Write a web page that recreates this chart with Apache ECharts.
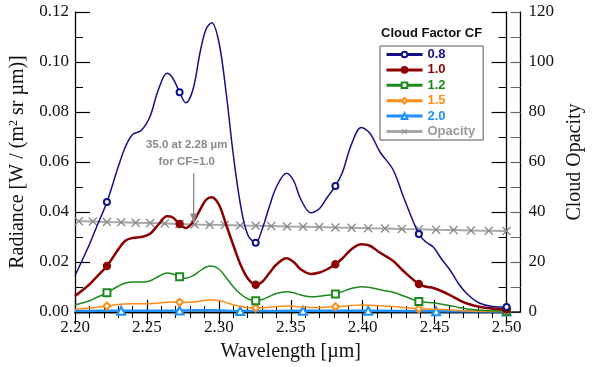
<!DOCTYPE html>
<html><head><meta charset="utf-8">
<script src="https://cdn.jsdelivr.net/npm/echarts@6/dist/echarts.min.js"></script>
<style>html,body{margin:0;padding:0;background:#fff}#c{width:593px;height:367px}</style>
</head><body><div id="c"></div>
<script>
// Wavelength grid (µm) for the cloud-factor curves
const wl = [2.200,2.210,2.215,2.2222,2.230,2.235,2.240,2.246,2.252,2.258,2.264,2.268,2.2727,2.277,2.282,2.287,2.291,2.295,2.300,2.305,2.310,2.315,2.320,2.3256,2.330,2.335,2.340,2.347,2.352,2.357,2.364,2.370,2.375,2.3810,2.386,2.392,2.399,2.405,2.412,2.421,2.429,2.4390,2.444,2.449,2.455,2.461,2.467,2.473,2.481,2.490,2.500];
const markWl = [2.2222,2.2727,2.3256,2.3810,2.4390,2.500];
const cf08 = [0.0145,0.027,0.034,0.044,0.058,0.066,0.0710,0.0726,0.0780,0.089,0.0955,0.0935,0.0879,0.0837,0.089,0.104,0.113,0.1157,0.108,0.088,0.063,0.043,0.031,0.0277,0.033,0.042,0.050,0.0555,0.0525,0.045,0.0397,0.0414,0.0456,0.0504,0.056,0.0668,0.0738,0.0715,0.064,0.057,0.045,0.0312,0.028,0.026,0.021,0.0165,0.011,0.007,0.0036,0.0022,0.002];
const cf10 = [0.0064,0.011,0.014,0.0184,0.025,0.0285,0.0296,0.0300,0.0312,0.035,0.0383,0.0378,0.0352,0.0336,0.036,0.041,0.0448,0.0459,0.043,0.035,0.0268,0.019,0.0135,0.0109,0.012,0.0155,0.019,0.0215,0.020,0.017,0.0152,0.0158,0.017,0.0191,0.0215,0.025,0.0271,0.0265,0.0237,0.0205,0.016,0.0112,0.0101,0.0096,0.0083,0.0066,0.0048,0.0033,0.0021,0.0014,0.0010];
const cf12 = [0.0028,0.0045,0.0058,0.0077,0.0103,0.0116,0.0120,0.0120,0.0124,0.0142,0.0156,0.0152,0.0141,0.0135,0.0145,0.0165,0.0180,0.0184,0.0172,0.0138,0.0101,0.0072,0.0053,0.0045,0.0050,0.0062,0.0074,0.0081,0.0077,0.0068,0.0061,0.0063,0.0067,0.0072,0.0082,0.0094,0.0101,0.0098,0.0089,0.0079,0.0063,0.0042,0.0039,0.0037,0.0031,0.0025,0.0018,0.0012,0.0008,0.0005,0.0003];
const cf15 = [0.0011,0.0016,0.0019,0.0024,0.0030,0.0032,0.0033,0.0033,0.0033,0.0036,0.0039,0.0040,0.0039,0.0038,0.0040,0.0044,0.0047,0.0048,0.0046,0.0038,0.0029,0.0022,0.0018,0.0016,0.0017,0.0019,0.0022,0.0024,0.0023,0.0020,0.0018,0.0018,0.0019,0.0021,0.0023,0.0026,0.0028,0.0027,0.0025,0.0022,0.0018,0.0013,0.0012,0.0011,0.0010,0.0008,0.0006,0.0004,0.0003,0.0002,0.0002];
// CF = 2.0 (own grid)
const wl20 = [2.200,2.2321,2.2727,2.295,2.3148,2.3585,2.4038,2.4510,2.500];
const cf20 = [0.0004,0.0005,0.0006,0.0007,0.0004,0.0005,0.0005,0.0003,0.0002];
const markWl20 = [2.2321,2.2727,2.3148,2.3585,2.4038,2.4510,2.500];
// Cloud opacity (right axis)
const wlOp = [2.2026,2.2124,2.2222,2.2321,2.2422,2.2523,2.2624,2.2727,2.2831,2.2936,2.3041,2.3148,2.3256,2.3364,2.3474,2.3585,2.3697,2.3810,2.3923,2.4038,2.4155,2.4272,2.4390,2.4510,2.4631,2.4752,2.4876,2.5000];
const opacity = [36.3,36.2,36.0,35.9,35.7,35.6,35.4,35.2,35.0,34.9,34.8,34.6,34.5,34.4,34.2,34.1,34.0,33.8,33.7,33.5,33.4,33.2,33.1,32.9,32.8,32.6,32.5,32.4];
// Annotation
const annotText = '35.0 at 2.28 µm\nfor CF=1.0';
const annotX = 2.2825, annotTipY = 35.0, annotTailY = 55.5;
// Ticks
const xTicks = {min:2.2, max:2.5, interval:0.05};
const yTicks = {min:0, max:0.12, interval:0.02};
const y2Ticks = {min:0, max:120, interval:20};

const names = ['0.8','1.0','1.2','1.5','2.0','Opacity'];
const colors = ['#111188','#8b0000','#1e8a1e','#ff8c1a','#1e90ff','#9a9a9a'];

function build(xs, ys, marks){
  return xs.map((x,i)=>{
    const m = marks.some(v=>Math.abs(v-x)<1e-6);
    return m ? {value:[x,ys[i]]} : {value:[x,ys[i]], symbol:'none'};
  });
}
const serif = 'Liberation Serif';
const sans = 'Liberation Sans';
const xCross = 'path://M0,1L1,0L10,9L9,10Z M9,0L10,1L1,10L0,9Z';

const chart = echarts.init(document.getElementById('c'));
const baseX = {type:'value', min:xTicks.min, max:xTicks.max, interval:xTicks.interval,
  axisLine:{lineStyle:{color:'#000',width:1.3}},
  axisTick:{inside:true,length:12,lineStyle:{color:'#000',width:1.2}},
  minorTick:{show:true,splitNumber:5,length:6,lineStyle:{color:'#000',width:1}},
  splitLine:{show:false}};
const baseY = {type:'value', min:yTicks.min, max:yTicks.max, interval:yTicks.interval,
  axisLine:{show:true,lineStyle:{color:'#000',width:1.3}},
  axisTick:{show:true,inside:true,length:15,lineStyle:{color:'#000',width:1.2}},
  minorTick:{show:true,splitNumber:2,length:8,lineStyle:{color:'#000',width:1}},
  splitLine:{show:false}};

const lineSeries = (i, data, sym, size, w) => ({
  name:names[i], type:'line', data, smooth:0.35, showAllSymbol:true,
  symbol:sym, symbolSize:size, xAxisIndex:0, yAxisIndex:0,
  lineStyle:{color:colors[i], width:w}, itemStyle:{color:colors[i], borderColor:colors[i], borderWidth:1.3},
  z: 10-i, animation:false
});

chart.setOption({
  animation:false,
  grid:{left:75, right:86, top:12, bottom:55},
  title:{text:'Cloud Factor CF', left:381, top:27, padding:0,
    textStyle:{fontFamily:sans, fontWeight:'bold', fontSize:13, color:'#111'}},
  legend:{orient:'vertical', left:380, top:46, padding:[2,8,2,5], itemGap:2.4, itemWidth:36, itemHeight:7,
    borderColor:'#555', borderWidth:1, backgroundColor:'#fff',
    lineStyle:{width:3},
    textStyle:{fontFamily:sans, fontWeight:'bold', fontSize:13},
    data:names.map((n,i)=>({name:n, textStyle:{color:colors[i]}}))},
  xAxis:[
    Object.assign({}, baseX, {position:'bottom',
      axisLabel:{formatter:v=>v.toFixed(2), fontFamily:serif, fontSize:17, color:'#111', margin:7},
      name:'Wavelength [µm]', nameLocation:'middle', nameGap:30,
      nameTextStyle:{fontFamily:serif, fontSize:20, color:'#111'}}),
    Object.assign({}, baseX, {position:'top', axisLabel:{show:false}})
  ],
  yAxis:[
    Object.assign({}, baseY, {position:'left',
      axisLabel:{formatter:v=>v.toFixed(2), fontFamily:serif, fontSize:17, color:'#111', margin:6},
      name:'{a|Radiance [W / (m}{s|2}{a| sr µm)]}', nameLocation:'middle', nameGap:47,
      nameTextStyle:{fontFamily:serif, fontSize:20, color:'#111',
        rich:{a:{fontFamily:serif,fontSize:20,color:'#111'}, s:{fontFamily:serif,fontSize:12,color:'#111',verticalAlign:'top',padding:[0,0,8,0]}}}}),
    Object.assign({}, baseY, {position:'right', axisLabel:{show:false}}),
    {type:'value', position:'right', offset:14, min:y2Ticks.min, max:y2Ticks.max, interval:y2Ticks.interval,
      axisLine:{show:true,lineStyle:{color:'#000',width:1.3}},
      axisTick:{show:true,inside:true,length:10,lineStyle:{color:'#666',width:1.2}},
      minorTick:{show:true,splitNumber:2,length:10,lineStyle:{color:'#666',width:1}},
      splitLine:{show:false},
      axisLabel:{fontFamily:serif, fontSize:17, color:'#111', margin:8},
      name:'Cloud Opacity', nameLocation:'middle', nameGap:42,
      nameTextStyle:{fontFamily:serif, fontSize:20, color:'#111'}}
  ],
  series:[
    {name:'Opacity', type:'line', xAxisIndex:0, yAxisIndex:2, data:wlOp.map((x,i)=>[x,opacity[i]]),
      symbol:xCross, symbolSize:9, showAllSymbol:true,
      lineStyle:{color:'#a8a8a8', width:2.2}, itemStyle:{color:'#8a8a8a'}, z:2, animation:false},
    lineSeries(4, build(wl20, cf20, markWl20), 'emptyTriangle', 8, 2.5),
    lineSeries(3, build(wl, cf15, markWl), 'emptyDiamond', 7, 1.5),
    lineSeries(2, build(wl, cf12, markWl), 'emptyRect', 7, 1.5),
    lineSeries(1, build(wl, cf10, markWl), 'circle', 7, 2.5),
    lineSeries(0, build(wl, cf08, markWl), 'emptyCircle', 6, 1.5)
  ]
});

// annotation arrow + text tied to data coordinates
const tip = chart.convertToPixel({xAxisIndex:0, yAxisIndex:2}, [annotX, annotTipY]);
const tail = chart.convertToPixel({xAxisIndex:0, yAxisIndex:2}, [annotX, annotTailY]);
const corner = chart.convertToPixel({xAxisIndex:0, yAxisIndex:0}, [xTicks.max, yTicks.min]);
chart.setOption({graphic:[
  {type:'line', shape:{x1:tail[0], y1:tail[1], x2:tip[0], y2:tip[1]-9}, style:{stroke:'#8a8a8a', lineWidth:1.3}, z:20},
  {type:'polygon', shape:{points:[[tip[0]-3.5,tip[1]-11],[tip[0]+3.5,tip[1]-11],[tip[0],tip[1]-1]]}, style:{fill:'#8a8a8a'}, z:20},
  {type:'text', x:tail[0]-7, y:tail[1]-3, style:{text:annotText, align:'center', verticalAlign:'bottom',
    font:'bold 11.5px "Liberation Sans"', fill:'#8a8a8a', lineHeight:17}, z:20},
  {type:'line', shape:{x1:corner[0], y1:corner[1], x2:corner[0]+14, y2:corner[1]}, style:{stroke:'#000', lineWidth:1.3}, z:5}
]});
</script></body></html>
